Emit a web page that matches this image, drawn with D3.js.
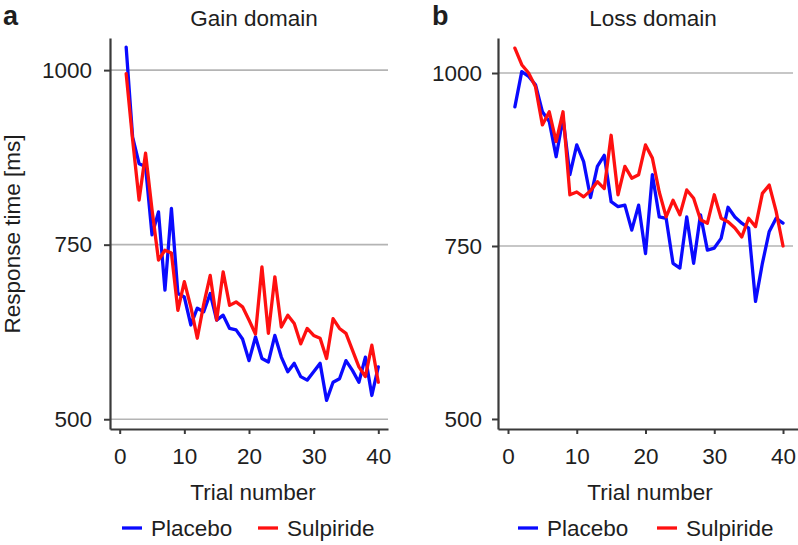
<!DOCTYPE html>
<html><head><meta charset="utf-8">
<script src="https://cdn.jsdelivr.net/npm/d3@7"></script>
<style>
body{margin:0;background:#fff}
svg{display:block}
text{font-family:"Liberation Sans",Arial,sans-serif;fill:#1e1e1e}
</style>
</head><body>
<svg id="c" width="798" height="545"></svg>
<script>
const trials = d3.range(1, 41);
const gainPlacebo = [1033, 904, 866, 862, 764, 797, 685, 802, 680, 675, 635, 659, 654, 680, 642, 649, 630, 628, 615, 584,
                     618, 587, 582, 620, 589, 568, 580, 561, 556, 568, 580, 527, 553, 558, 584, 570, 553, 589, 534, 575];
const gainSulpiride = [995, 900, 814, 881, 800, 728, 742, 738, 656, 697, 661, 616, 665, 706, 642, 711, 663, 668, 661, 642,
                       622, 718, 623, 704, 632, 649, 637, 608, 630, 620, 616, 587, 644, 630, 623, 599, 575, 561, 606, 553];
const lossPlacebo = [951, 1002, 995, 983, 944, 930, 879, 935, 853, 896, 872, 820, 865, 881, 814, 807, 809, 773, 809, 739,
                     853, 792, 790, 725, 718, 792, 725, 795, 744, 747, 761, 806, 792, 783, 776, 670, 725, 771, 790, 783];
const lossSulpiride = [1036, 1012, 1000, 980, 925, 944, 901, 944, 824, 828, 821, 830, 843, 833, 910, 824, 865, 848, 853, 896,
                       877, 828, 792, 816, 795, 831, 819, 788, 783, 824, 790, 785, 776, 763, 790, 778, 826, 838, 800, 750];
const xTicks = [0, 10, 20, 30, 40];
const yTicks = [500, 750, 1000];
const panelLetters = ["a", "b"];
const panelTitles = ["Gain domain", "Loss domain"];
const seriesNames = ["Placebo", "Sulpiride"];
const seriesColors = ["#0a0aff", "#ff1010"];
const xLabel = "Trial number";
const yLabel = "Response time [ms]";

const panels = [
  {letter: panelLetters[0], title: panelTitles[0], series: [gainPlacebo, gainSulpiride],
   xDom: [-1.5, 41.5], xRange: [110, 388], yDom: [486, 1046], yRange: [429, 38],
   grid: [500, 750, 1000], gridEnd: 388, ypad: 12,
   letterX: 3, titleX: 254, labelX: 253, legX: [122, 258]},
  {letter: panelLetters[1], title: panelTitles[1], series: [lossPlacebo, lossSulpiride],
   xDom: [-1.4545, 42.18], xRange: [498, 798], yDom: [485.5, 1050.6], yRange: [429, 38],
   grid: [750, 1000], gridEnd: 793, ypad: 10,
   letterX: 432, titleX: 653, labelX: 650, legX: [518, 657]}
];

const svg = d3.select("#c");
const FS = 22.5;

panels.forEach(p => {
  const x = d3.scaleLinear().domain(p.xDom).range(p.xRange);
  const y = d3.scaleLinear().domain(p.yDom).range(p.yRange);
  const g = svg.append("g");

  // gridlines
  g.selectAll("line.grid").data(p.grid).join("line")
    .attr("x1", p.xRange[0]).attr("x2", p.gridEnd)
    .attr("y1", d => y(d)).attr("y2", d => y(d))
    .attr("stroke", "#b4b4b4").attr("stroke-width", 1.6);

  // y axis
  const ya = g.append("g").attr("transform", `translate(${p.xRange[0]},0)`)
    .call(d3.axisLeft(y).tickValues(yTicks).tickFormat(d3.format("d"))
      .tickSize(6).tickSizeOuter(0).tickPadding(p.ypad));
  // x axis
  const xa = g.append("g").attr("transform", `translate(0,${p.yRange[0]})`)
    .call(d3.axisBottom(x).tickValues(xTicks).tickFormat(d3.format("d"))
      .tickSize(5).tickSizeOuter(0).tickPadding(14));
  [ya, xa].forEach(a => {
    a.attr("font-size", null).attr("font-family", null);
    a.select(".domain").attr("stroke", "#3a3a3a").attr("stroke-width", 2.2);
    a.selectAll(".tick line").attr("stroke", "#3a3a3a").attr("stroke-width", 2);
    a.selectAll(".tick text").style("font-size", FS + "px").attr("fill", "#1e1e1e");
  });

  // lines
  const line = d3.line().x((d, i) => x(trials[i])).y(d => y(d));
  p.series.forEach((s, k) => {
    g.append("path").datum(s).attr("d", line)
      .attr("fill", "none").attr("stroke", seriesColors[k])
      .attr("stroke-width", 3.3).attr("stroke-linejoin", "round").attr("stroke-linecap", "round");
  });

  // letter & title
  g.append("text").attr("x", p.letterX).attr("y", 25).text(p.letter)
    .style("font-size", "27px").style("font-weight", "bold").attr("fill", "#111");
  g.append("text").attr("x", p.titleX).attr("y", 26).attr("text-anchor", "middle")
    .style("font-size", FS + "px").text(p.title);

  // x label
  g.append("text").attr("x", p.labelX).attr("y", 500).attr("text-anchor", "middle")
    .style("font-size", FS + "px").text(xLabel);

  // legend
  seriesNames.forEach((n, k) => {
    const lx = p.legX[k];
    g.append("line").attr("x1", lx).attr("x2", lx + 20).attr("y1", 528).attr("y2", 528)
      .attr("stroke", seriesColors[k]).attr("stroke-width", 3.3);
    g.append("text").attr("x", lx + 29).attr("y", 536).style("font-size", FS + "px").text(n);
  });
});

// y label
svg.append("text").attr("transform", "translate(20,234) rotate(-90)")
  .attr("text-anchor", "middle").style("font-size", FS + "px").text(yLabel);
</script>
</body></html>
